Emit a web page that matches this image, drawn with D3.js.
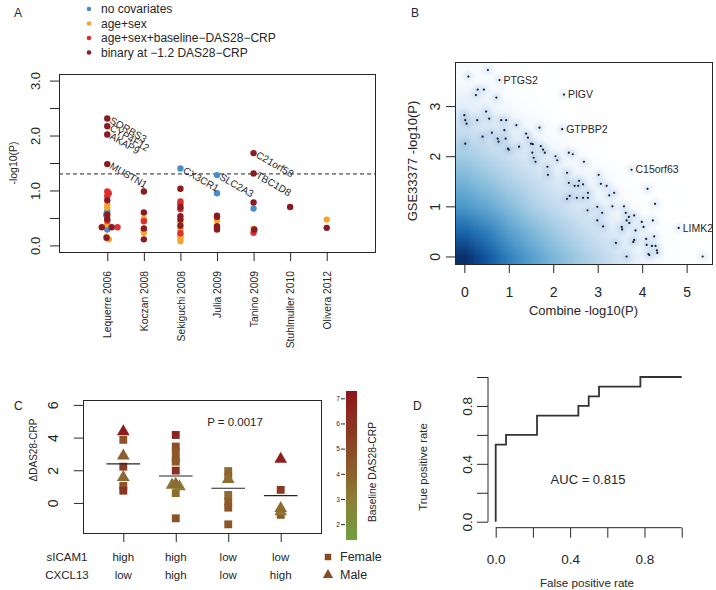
<!DOCTYPE html>
<html><head><meta charset="utf-8">
<script src="https://cdn.jsdelivr.net/npm/d3@7"></script>
<style>
body{margin:0;background:#fff}
svg{display:block}
</style>
</head><body>
<script>
// ================= DATA =================
// ---- Panel A ----
const studies = ["Lequerre 2006","Koczan 2008","Sekiguchi 2008","Julia 2009","Tanino 2009","Stuhlmuller 2010","Olivera 2012"];
const seriesNames = ["no covariates","age+sex","age+sex+baseline\u2212DAS28\u2212CRP","binary at \u22121.2 DAS28\u2212CRP"];
const seriesColors = ["#4a8dca","#f3a530","#de2f2f","#8a1b22"];
const yTicksA = [0,0.5,1,1.5,2,2.5,3];
const yTickLabelsA = ["0.0","","1.0","","2.0","","3.0"];
const sigLevelA = 1.301;
// [study position (1..7, slight jitter), -log10(P)]
const ptsNoCov = [[1,0.62],[0.97,0.56],[1,0.29],[3,1.40],[4,1.28],[4,0.95],[5,0.67]];
const ptsAgeSex = [[1,0.74],[1,0.69],[1,0.38],[1.04,0.11],[0.98,0.16],[2,0.48],[2,0.26],[2,0.23],
  [3,0.42],[3,0.29],[3,0.18],[3,0.14],[3,0.08],[4,0.46],[5,0.30],[7,0.47]];
const ptsAgeSexBase = [[1,0.98],[1.04,0.95],[1,0.90],[1.28,0.33],[1,0.45],[2,0.44],
  [3,0.80],[3,0.76],[3,0.66],[3,0.22],[5,0.23]];
const ptsBinary = [[1,2.31],[1,2.17],[1,2.02],[1,1.48],[1,0.82],[1,0.56],[1,0.48],[0.85,0.33],[1.12,0.33],[0.98,0.14],
  [2,0.98],[2,0.60],[2,0.31],[2,0.11],
  [3,1.03],[3,0.70],[3,0.53],[3,0.47],[3,0.36],
  [4,0.54],[4,0.52],[4,0.35],[4,0.32],[4,0.29],
  [5,1.68],[5,1.31],[5,0.78],[5.02,0.29],
  [6,0.70],[7,0.32]];
const geneLabelsA = [["SORBS3",1,2.31],["CYP4F12",1,2.17],["AKAP9",1,2.02],["MUSTN1",1,1.48],
  ["CX3CR1",3,1.40],["SLC2A3",4,1.28],["C21orf58",5,1.68],["TBC1D8",5,1.31]];

// ---- Panel B ----
const xTicksB = [0,1,2,3,4,5];
const yTicksB = [0,1,2,3];
const densX = [0,0.5,1,1.5,2,2.5,3,3.5,4,4.5,5,5.5];
const densY = [0,0.5,1,1.5,2,2.5,3,3.5];
const densGrid = [
  [1.00,0.86,0.72,0.61,0.52,0.44,0.36,0.26,0.15,0.06,0.01,0.00],
  [0.82,0.73,0.61,0.52,0.44,0.36,0.28,0.20,0.11,0.04,0.00,0.00],
  [0.64,0.58,0.50,0.41,0.34,0.26,0.18,0.10,0.04,0.01,0.00,0.00],
  [0.53,0.47,0.40,0.33,0.25,0.18,0.11,0.05,0.01,0.00,0.00,0.00],
  [0.43,0.37,0.30,0.22,0.14,0.07,0.03,0.00,0.00,0.00,0.00,0.00],
  [0.32,0.26,0.20,0.12,0.06,0.02,0.00,0.00,0.00,0.00,0.00,0.00],
  [0.21,0.16,0.10,0.04,0.01,0.00,0.00,0.00,0.00,0.00,0.00,0.00],
  [0.09,0.07,0.03,0.01,0.00,0.00,0.00,0.00,0.00,0.00,0.00,0.00]];
const outliersB = [[0.53,3.72],[0.09,3.59],[0.79,3.52],[0.30,3.33],[0.44,3.33],[0.26,3.22],[0.72,3.17],[2.24,3.23],
  [0.49,2.89],[0.0,2.82],[0.02,2.72],[0.05,2.65],[0.29,2.72],[0.56,2.75],[0.83,2.72],[0.94,2.72],
  [0.90,2.52],[1.17,2.62],[1.69,2.57],[2.20,2.54],[0.41,2.39],[0.62,2.47],[0.75,2.35],[0.77,2.29],
  [0.93,2.35],[0.98,2.15],[1.39,2.45],[1.43,2.37],[1.50,2.25],[1.23,2.19],[1.72,2.20],[1.77,2.13],
  [0.02,2.25],[1.0,2.13],[1.54,2.24],[1.53,2.07],[1.56,1.97],[1.60,1.89],[1.81,2.07],[1.87,1.79],
  [1.88,1.63],[2.05,2.0],[2.09,1.92],[2.35,2.07],[2.44,2.04],[2.31,1.67],[2.69,1.89],[2.35,1.47],
  [2.48,1.41],[2.58,1.51],[2.56,1.41],[2.67,1.44],[2.31,1.15],[2.37,1.21],[2.53,1.17],[2.67,1.17],
  [2.78,1.27],[2.78,1.17],[2.77,0.92],[3.02,1.63],[3.07,1.45],[3.20,1.41],[2.99,0.99],[3.10,0.87],
  [2.99,0.72],[3.12,0.60],[3.26,1.22],[3.37,1.27],[3.33,1.0],[3.41,0.27],[3.54,0.59],[3.55,0.54],
  [3.59,1.0],[3.63,0.87],[3.65,0.72],[3.70,0.79],[3.71,0.67],[3.82,0.82],[3.65,0.0],[3.76,1.73],
  [3.80,0.29],[3.82,0.33],[3.85,0.52],[3.99,0.69],[4.03,0.59],[4.09,0.35],[4.10,0.23],[4.12,1.35],
  [4.14,0.05],[4.16,0.03],[4.24,0.72],[4.27,0.40],[4.29,1.05],[4.30,0.21],[4.33,0.12],[4.34,0.07],
  [4.82,0.57],[5.36,0.0],[4.22,0.21]];
const geneLabelsB = [["PTGS2",0.79,3.52],["PIGV",2.24,3.23],["GTPBP2",2.20,2.54],["C15orf63",3.76,1.73],["LIMK2",4.82,0.57]];

// ---- Panel C ----
const groupsC = [1,2,3,4];
const sicam1Levels = ["high","high","low","low"];
const cxcl13Levels = ["low","high","low","high"];
const groupCentres = [2.39,1.65,0.90,0.45];
const yTicksC = [0,2,4,6];
const cbTicks = [2,3,4,5,6,7];
// [group (with jitter), delta DAS28-CRP, sex, baseline DAS28-CRP]
const pointsC = [
  [1,4.37,"M",6.9],[1,3.86,"F",4.6],[1,2.88,"M",4.1],[1,2.22,"F",5.6],[1,1.57,"M",3.8],[1,1.04,"F",4.5],[1,0.75,"F",6.0],
  [2,4.16,"F",6.7],[2,3.45,"F",4.8],[2,3.14,"F",4.4],[2,2.69,"F",4.6],[2,2.53,"F",4.3],[2,1.98,"F",6.1],
  [2,0.60,"F",3.6],[2,-0.94,"F",4.6],[1.93,1.10,"M",3.3],[2.07,1.00,"M",2.9],[2,1.15,"M",3.6],
  [3,1.95,"F",3.8],[3,1.60,"F",4.0],[3,1.45,"M",3.5],[3,0.49,"F",3.7],[3,0.08,"F",4.2],[3,-0.29,"F",4.4],[3,-1.31,"F",4.5],
  [4,0.80,"F",5.6],[4,-0.73,"F",4.3],[4,-0.53,"M",3.2],[4,-0.33,"M",3.6],[4,2.69,"M",6.8]];
const sexNames = ["Female","Male"];

// ---- Panel D ----
const fprD = [0,0,1/18,1/18,4/18,4/18,8/18,8/18,9/18,9/18,10/18,10/18,14/18,14/18,1];
const tprD = [0,8/15,8/15,9/15,9/15,11/15,11/15,12/15,12/15,13/15,13/15,14/15,14/15,1,1];
const ticksD = [0,0.2,0.4,0.6,0.8,1.0];
const tickLabelsD = ["0.0","","0.4","","0.8",""];
const aucText = "AUC = 0.815";

// ================= DRAWING =================
const FONT = '"Liberation Sans", Arial, Helvetica, sans-serif';
const INK = "#262626";
const svg = d3.select("body").append("svg").attr("width",716).attr("height",590)
  .style("font-family",FONT);
const defs = svg.append("defs");
defs.append("filter").attr("id","soft").attr("x","-50%").attr("y","-50%").attr("width","200%").attr("height","200%")
  .append("feGaussianBlur").attr("stdDeviation",2.2);

function fixAxis(a, fs){
  a.attr("font-size",null).attr("font-family",null);
  a.select(".domain").remove();
  a.selectAll(".tick line").attr("stroke",INK).attr("stroke-width",1);
  a.selectAll(".tick text").attr("fill",INK).style("font-size",fs+"px").style("font-family",FONT);
}
function rotLeftLabels(a, off){
  a.selectAll(".tick text").attr("x",0).attr("y",0).attr("dy","0.35em")
    .attr("text-anchor","middle").attr("transform",`translate(${-off},0) rotate(-90)`);
}
function bottomLabels(a, off){
  a.selectAll(".tick text").attr("y",off).attr("dy","0.35em");
}
function text(g,x,y,s,fs,opt={}){
  const t = g.append("text").attr("x",x).attr("y",y).attr("dy",opt.dy||"0.35em")
    .attr("text-anchor",opt.anchor||"start").attr("fill",opt.fill||INK)
    .style("font-size",fs+"px").text(s);
  if(opt.rotate!==undefined) t.attr("transform",`rotate(${opt.rotate},${x},${y})`);
  return t;
}
function box(g,x0,y0,x1,y1){
  g.append("rect").attr("x",x0+0.5).attr("y",y0+0.5).attr("width",x1-x0).attr("height",y1-y0)
   .attr("fill","none").attr("stroke",INK).attr("stroke-width",1);
}

// ---------- Panel A ----------
{
  const g = svg.append("g");
  const L=59,R=375,T=74,B=252;
  const x = d3.scaleLinear().domain([-0.32,8.32]).range([L,R]);
  const y = d3.scaleLinear().domain([-0.12,3.12]).range([B,T]);
  text(g,14,13,"A",12);
  seriesNames.forEach((n,i)=>{
    const ly = 9 + i*14.5;
    g.append("circle").attr("cx",89).attr("cy",ly).attr("r",2.3).attr("fill",seriesColors[i]);
    text(g,101,ly,n,12);
  });
  g.append("line").attr("x1",L).attr("x2",R).attr("y1",y(sigLevelA)).attr("y2",y(sigLevelA))
    .attr("stroke",INK).attr("stroke-dasharray","4,3").attr("stroke-width",1);
  [ptsNoCov,ptsAgeSex,ptsAgeSexBase,ptsBinary].forEach((pts,i)=>{
    g.append("g").selectAll("circle").data(pts).join("circle")
      .attr("cx",d=>x(d[0])).attr("cy",d=>y(d[1])).attr("r",3.2).attr("fill",seriesColors[i]);
  });
  geneLabelsA.forEach(([s,gx,gy])=>{
    const px = x(gx)+4, py = y(gy);
    g.append("text").attr("x",0).attr("y",0).attr("dy","0.45em")
      .attr("transform",`translate(${px},${py}) rotate(30)`)
      .attr("fill",INK).style("font-size","10px").text(s);
  });
  box(g,L,T,R,B);
  const ay = g.append("g").attr("transform",`translate(${L},0)`)
    .call(d3.axisLeft(y).tickValues(yTicksA).tickSize(9).tickFormat((d,i)=>yTickLabelsA[i]));
  fixAxis(ay,13); rotLeftLabels(ay,24);
  const ax = g.append("g").attr("transform",`translate(0,${B})`)
    .call(d3.axisBottom(x).tickValues(d3.range(1,studies.length+1)).tickSize(9).tickFormat(d=>studies[d-1]));
  fixAxis(ax,10.3);
  ax.selectAll(".tick text").attr("x",0).attr("y",0).attr("dy","0.35em").attr("text-anchor","end")
    .attr("transform","translate(0,19) rotate(-90)");
  text(g,13,163,"-log10(P)",10.5,{anchor:"middle",rotate:-90});
}

// ---------- Panel B ----------
{
  const g = svg.append("g");
  const L=455,R=712,T=62,B=264;
  const x = d3.scaleLinear().domain([-0.21,5.57]).range([L,R]);
  const y = d3.scaleLinear().domain([-0.15,3.88]).range([B,T]);
  text(g,411,13,"B",12);
  defs.append("clipPath").attr("id","clipB").append("rect")
    .attr("x",L).attr("y",T).attr("width",R-L).attr("height",B-T);
  const ramp = d3.interpolateRgbBasis(["#ffffff","#f7fbff","#deebf7","#c6dbef","#9ecae1","#6baed6","#4292c6","#2171b5","#08519c","#08306b"]);
  const nx = densX.length, ny = densY.length;
  const cv = document.createElement("canvas"); cv.width = nx+2; cv.height = ny+2;
  const ctx = cv.getContext("2d");
  for(let j=-1;j<=ny;j++) for(let i=-1;i<=nx;i++){
    const jj = Math.max(0,Math.min(ny-1,j)), ii = Math.max(0,Math.min(nx-1,i));
    ctx.fillStyle = ramp(densGrid[jj][ii]);
    ctx.fillRect(i+1, ny-j, 1, 1);
  }
  const step = 0.5;
  const gd = g.append("g").attr("clip-path","url(#clipB)");
  gd.append("image").attr("href",cv.toDataURL())
    .attr("x",x(densX[0]-1.5*step)).attr("y",y(densY[ny-1]+1.5*step))
    .attr("width",x(densX[nx-1]+1.5*step)-x(densX[0]-1.5*step))
    .attr("height",y(densY[0]-1.5*step)-y(densY[ny-1]+1.5*step))
    .attr("preserveAspectRatio","none");
  gd.append("g").style("mix-blend-mode","multiply").attr("filter","url(#soft)")
    .selectAll("circle").data(outliersB).join("circle")
    .attr("cx",d=>x(d[0])).attr("cy",d=>y(d[1])).attr("r",5).attr("fill","#d3e3f3").attr("opacity",0.55);
  gd.append("g").selectAll("circle").data(outliersB).join("circle")
    .attr("cx",d=>x(d[0])).attr("cy",d=>y(d[1])).attr("r",1.1).attr("fill","#1b1b2a");
  geneLabelsB.forEach(([s,gx,gy])=> text(g,x(gx)+4,y(gy),s,10.5));
  box(g,L,T,R,B);
  const ay = g.append("g").attr("transform",`translate(${L},0)`)
    .call(d3.axisLeft(y).tickValues(yTicksB).tickSize(9).tickFormat(d3.format("d")));
  fixAxis(ay,14); rotLeftLabels(ay,20);
  const ax = g.append("g").attr("transform",`translate(0,${B})`)
    .call(d3.axisBottom(x).tickValues(xTicksB).tickSize(9).tickFormat(d3.format("d")));
  fixAxis(ax,14); bottomLabels(ax,28.5);
  text(g,(x(0)+x(5))/2+8,310,"Combine -log10(P)",13,{anchor:"middle"});
  text(g,412,161,"GSE33377 -log10(P)",13,{anchor:"middle",rotate:-90});
}

// ---------- Panel C ----------
{
  const g = svg.append("g");
  const L=83,R=321,T=400,B=533;
  const x = d3.scaleLinear().domain([0.232,4.768]).range([L,R]);
  const y = d3.scaleLinear().domain([-1.84,6.3]).range([B,T]);
  const color = d3.scaleLinear().domain([1.37,3.0,4.3,5.8,7.29])
    .range(["#6fa03f","#8c7d36","#8c5a2a","#8c3622","#8e161b"]).clamp(true);
  text(g,14,406,"C",12);
  const sym = {F:d3.symbol().type(d3.symbolSquare).size(62), M:d3.symbol().type(d3.symbolTriangle).size(70)};
  const symLeg = {F:d3.symbol().type(d3.symbolSquare).size(42), M:d3.symbol().type(d3.symbolTriangle).size(46)};
  g.append("g").selectAll("path").data(pointsC).join("path")
    .attr("d",d=>sym[d[2]]())
    .attr("transform",d=>`translate(${x(d[0])},${y(d[1])})`)
    .attr("fill",d=>color(d[3]));
  g.append("g").selectAll("line").data(groupsC).join("line")
    .attr("x1",d=>x(d-0.32)).attr("x2",d=>x(d+0.32))
    .attr("y1",(d,i)=>y(groupCentres[i])).attr("y2",(d,i)=>y(groupCentres[i]))
    .attr("stroke",INK).attr("stroke-width",1.2);
  text(g,235,422,"P = 0.0017",11.5,{anchor:"middle"});
  box(g,L,T,R,B);
  const ay = g.append("g").attr("transform",`translate(${L},0)`)
    .call(d3.axisLeft(y).tickValues(yTicksC).tickSize(9).tickFormat(d3.format("d")));
  fixAxis(ay,14); rotLeftLabels(ay,30);
  const ax = g.append("g").attr("transform",`translate(0,${B})`)
    .call(d3.axisBottom(x).tickValues(groupsC).tickSize(9).tickFormat(""));
  fixAxis(ax,11);
  text(g,67,557,"sICAM1",11.5,{anchor:"middle"});
  text(g,67,575,"CXCL13",11.5,{anchor:"middle"});
  groupsC.forEach((d,i)=>{
    text(g,x(d),557,sicam1Levels[i],11.5,{anchor:"middle"});
    text(g,x(d),575,cxcl13Levels[i],11.5,{anchor:"middle"});
  });
  text(g,33,450,"\u0394DAS28-CRP",10,{anchor:"middle",rotate:-90});
  const cb = d3.scaleLinear().domain([1.37,7.29]).range([540,391]);
  const grad = defs.append("linearGradient").attr("id","cbGrad")
    .attr("x1",0).attr("y1",1).attr("x2",0).attr("y2",0);
  color.domain().forEach(v=>{
    grad.append("stop").attr("offset",(v-1.37)/(7.29-1.37)).attr("stop-color",color(v));
  });
  g.append("rect").attr("x",346).attr("y",cb(7.29)).attr("width",11).attr("height",cb(1.37)-cb(7.29))
    .attr("fill","url(#cbGrad)");
  const ac = g.append("g").attr("transform","translate(345,0)")
    .call(d3.axisLeft(cb).tickValues(cbTicks).tickSize(4).tickFormat(d3.format("d")));
  fixAxis(ac,6.5);
  ac.selectAll(".tick text").attr("x",-7).attr("text-anchor","middle").attr("dy","0.35em");
  text(g,372,472,"Baseline DAS28-CRP",10.3,{anchor:"middle",rotate:-90});
  g.append("path").attr("d",symLeg.F()).attr("transform","translate(328,557)").attr("fill","#8a4b22");
  g.append("path").attr("d",symLeg.M()).attr("transform","translate(328,575)").attr("fill","#8a4b22");
  text(g,340,557,sexNames[0],12.5);
  text(g,340,575,sexNames[1],12.5);
}

// ---------- Panel D ----------
{
  const g = svg.append("g");
  const x = d3.scaleLinear().domain([0,1]).range([495.7,681.7]);
  const y = d3.scaleLinear().domain([0,1]).range([521.7,377]);
  text(g,413,406,"D",12);
  g.append("path").datum(d3.zip(fprD,tprD))
    .attr("d",d3.line().x(d=>x(d[0])).y(d=>y(d[1])))
    .attr("fill","none").attr("stroke","#333").attr("stroke-width",1.8);
  text(g,588,479,aucText,13,{anchor:"middle"});
  const axX = 488, axY = 527.7;
  g.append("line").attr("x1",axX).attr("x2",axX).attr("y1",y(0)).attr("y2",y(1)).attr("stroke",INK);
  g.append("line").attr("x1",x(0)).attr("x2",x(1)).attr("y1",axY).attr("y2",axY).attr("stroke",INK);
  const ay = g.append("g").attr("transform",`translate(${axX},0)`)
    .call(d3.axisLeft(y).tickValues(ticksD).tickSize(11).tickFormat((d,i)=>tickLabelsD[i]));
  fixAxis(ay,13.5); rotLeftLabels(ay,21);
  const ax = g.append("g").attr("transform",`translate(0,${axY})`)
    .call(d3.axisBottom(x).tickValues(ticksD).tickSize(10).tickFormat((d,i)=>tickLabelsD[i]));
  fixAxis(ax,13.5); bottomLabels(ax,32);
  text(g,587,583,"False positive rate",11.6,{anchor:"middle"});
  text(g,423,467,"True positive rate",11.4,{anchor:"middle",rotate:-90});
}
</script>
</body></html>
